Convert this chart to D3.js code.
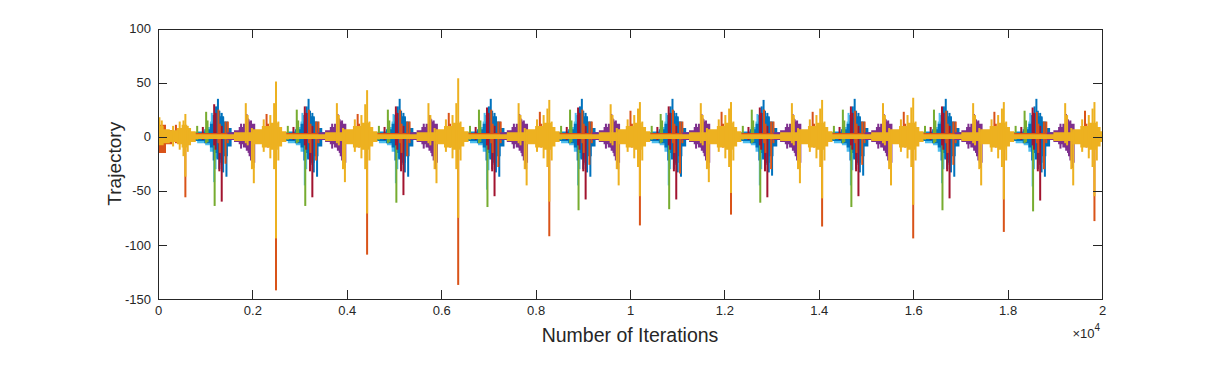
<!DOCTYPE html>
<html>
<head>
<meta charset="utf-8">
<script src="https://cdn.jsdelivr.net/npm/d3@7"></script>
<style>
  body { margin: 0; background: #fff; }
  #graf text { font-family: 'Liberation Sans', Arial, sans-serif; fill: #262626; }
  .eje path, .eje line { stroke: #262626; shape-rendering: crispEdges; }
</style>
</head>
<body>
<div id="graf"></div>
<script>
// Trayectorias vs numero de iteraciones (estilo MATLAB)

// ---- Datos ----
// bandas: [iteracion, max, min] (escalon hasta la siguiente fila)
// picos:  [iteracion, max, min]
xTicks = [0, 2000, 4000, 6000, 8000, 10000, 12000, 14000, 16000, 18000, 20000]
yTicks = [-150, -100, -50, 0, 50, 100]

lightBlueBand = [
  [660,3,-3],[830,5,-6],[1000,9,-8],[1100,14,-14],[1180,10,-20],[1260,6,-10],[1340,0,0],
  [2580,3,-3],[2750,5,-6],[2920,9,-8],[3020,14,-14],[3100,10,-20],[3180,6,-10],[3260,0,0],
  [4510,3,-3],[4680,5,-6],[4850,9,-8],[4950,14,-14],[5030,10,-20],[5110,6,-10],[5190,0,0],
  [6440,3,-3],[6610,5,-6],[6780,9,-8],[6880,14,-14],[6960,10,-20],[7040,6,-10],[7120,0,0],
  [8370,3,-3],[8540,5,-6],[8710,9,-8],[8810,14,-14],[8890,10,-20],[8970,6,-10],[9050,0,0],
  [10290,3,-3],[10460,5,-6],[10630,9,-8],[10730,14,-14],[10810,10,-20],[10890,6,-10],[10970,0,0],
  [12220,3,-3],[12390,5,-6],[12560,9,-8],[12660,14,-14],[12740,10,-20],[12820,6,-10],[12900,0,0],
  [14150,3,-3],[14320,5,-6],[14490,9,-8],[14590,14,-14],[14670,10,-20],[14750,6,-10],[14830,0,0],
  [16080,3,-3],[16250,5,-6],[16420,9,-8],[16520,14,-14],[16600,10,-20],[16680,6,-10],[16760,0,0],
  [18000,3,-3],[18170,5,-6],[18340,9,-8],[18440,14,-14],[18520,10,-20],[18600,6,-10],[18680,0,0],
  [19920,3,-4],[20000,3,-4]
]
lightBlueSpikes = [
  [1140,22,-10],[1190,8,-42],[1220,18,-30],
  [3060,22,-10],[3110,8,-45],[3140,18,-30],
  [4990,21,-10],[5040,8,-43],[5070,17,-30],
  [6920,22,-10],[6970,8,-49],[7000,18,-31],
  [8850,22,-10],[8900,8,-45],[8930,18,-30],
  [10770,22,-10],[10820,8,-45],[10850,17,-30],
  [12700,21,-10],[12750,8,-45],[12780,18,-30],
  [14630,22,-10],[14680,8,-45],[14710,18,-31],
  [16560,22,-10],[16610,8,-43],[16640,18,-30],
  [18480,22,-10],[18530,8,-46],[18560,18,-30]
]

blueBand = [
  [700,4,-4],[980,7,-6],[1100,12,-10],[1180,17,-15],[1240,22,-21],[1320,19,-24],[1400,14,-18],[1480,8,-9],[1560,4,-3],[1620,0,0],
  [2620,4,-4],[2900,7,-6],[3020,12,-10],[3100,17,-15],[3160,22,-21],[3240,19,-24],[3320,14,-18],[3400,8,-9],[3480,4,-3],[3540,0,0],
  [4550,4,-4],[4830,7,-6],[4950,12,-10],[5030,17,-15],[5090,22,-21],[5170,19,-24],[5250,14,-18],[5330,8,-9],[5410,4,-3],[5470,0,0],
  [6480,4,-4],[6760,7,-6],[6880,12,-10],[6960,17,-15],[7020,22,-21],[7100,19,-24],[7180,14,-18],[7260,8,-9],[7340,4,-3],[7400,0,0],
  [8410,4,-4],[8690,7,-6],[8810,12,-10],[8890,17,-15],[8950,22,-21],[9030,19,-24],[9110,14,-18],[9190,8,-9],[9270,4,-3],[9330,0,0],
  [10330,4,-4],[10610,7,-6],[10730,12,-10],[10810,17,-15],[10870,22,-21],[10950,19,-24],[11030,14,-18],[11110,8,-9],[11190,4,-3],[11250,0,0],
  [12260,4,-4],[12540,7,-6],[12660,12,-10],[12740,17,-15],[12800,22,-21],[12880,19,-24],[12960,14,-18],[13040,8,-9],[13120,4,-3],[13180,0,0],
  [14190,4,-4],[14470,7,-6],[14590,12,-10],[14670,17,-15],[14730,22,-21],[14810,19,-24],[14890,14,-18],[14970,8,-9],[15050,4,-3],[15110,0,0],
  [16120,4,-4],[16400,7,-6],[16520,12,-10],[16600,17,-15],[16660,22,-21],[16740,19,-24],[16820,14,-18],[16900,8,-9],[16980,4,-3],[17040,0,0],
  [18040,4,-4],[18320,7,-6],[18440,12,-10],[18520,17,-15],[18580,22,-21],[18660,19,-24],[18740,14,-18],[18820,8,-9],[18900,4,-3],[18960,0,0],
  [19960,4,-4],[20000,4,-4]
]
blueSpikes = [
  [1180,20,-22],[1230,28,-12],[1270,35,-20],[1300,24,-30],[1350,22,-26],[1380,18,-33],[1450,12,-37],
  [3100,20,-22],[3150,28,-12],[3190,35,-20],[3220,24,-30],[3270,22,-26],[3300,18,-33],[3370,12,-37],
  [5030,20,-22],[5080,28,-12],[5120,35,-20],[5150,24,-30],[5200,22,-26],[5230,18,-33],[5300,12,-37],
  [6960,20,-22],[7010,28,-12],[7050,35,-20],[7080,24,-30],[7130,22,-26],[7160,18,-33],[7230,12,-37],
  [8890,20,-22],[8940,28,-12],[8980,35,-20],[9010,24,-30],[9060,22,-26],[9090,18,-33],[9160,12,-37],
  [10810,20,-22],[10860,28,-12],[10900,35,-20],[10930,24,-30],[10980,22,-26],[11010,18,-33],[11080,12,-37],
  [12740,20,-22],[12790,28,-12],[12830,34,-20],[12860,24,-30],[12910,22,-26],[12940,18,-33],[13010,12,-36],
  [14670,20,-22],[14720,28,-12],[14760,35,-20],[14790,24,-30],[14840,22,-26],[14870,18,-33],[14940,12,-36],
  [16600,20,-22],[16650,28,-12],[16690,35,-20],[16720,24,-30],[16770,22,-26],[16800,18,-33],[16870,12,-37],
  [18520,20,-22],[18570,28,-12],[18610,35,-20],[18640,24,-30],[18690,22,-26],[18720,18,-33],[18790,12,-37]
]

greenSpikes = [
  [830,10,-3],[1020,23,-6],[1050,15,-5],[1200,5,-64],
  [2750,10,-3],[2940,25,-6],[2970,15,-5],[3120,5,-64],
  [4680,10,-3],[4870,25,-6],[4900,15,-5],[5050,5,-61],
  [6610,10,-3],[6800,25,-6],[6830,15,-5],[6980,5,-65],
  [8540,10,-3],[8730,25,-6],[8760,15,-5],[8910,5,-68],
  [10460,10,-3],[10650,21,-6],[10680,15,-5],[10830,5,-67],
  [12390,10,-3],[12580,25,-6],[12610,15,-5],[12760,5,-61],
  [14320,10,-3],[14510,25,-6],[14540,15,-5],[14690,5,-65],
  [16250,10,-3],[16440,25,-6],[16470,15,-5],[16620,5,-68],
  [18170,10,-3],[18360,24,-6],[18390,15,-5],[18540,5,-69]
]

darkRedSpikes = [
  [950,9,-3],[1190,30,-8],[1220,22,-12],[1300,6,-32],[1350,10,-60],
  [2870,9,-3],[3110,28,-8],[3140,22,-12],[3220,6,-32],[3270,10,-56],
  [4800,9,-3],[5040,28,-8],[5070,22,-12],[5150,6,-32],[5200,10,-54],
  [6730,9,-3],[6970,27,-8],[7000,22,-12],[7080,6,-32],[7130,10,-55],
  [8660,9,-3],[8900,27,-8],[8930,22,-12],[9010,6,-32],[9060,10,-58],
  [10580,9,-3],[10820,28,-8],[10850,22,-12],[10930,6,-32],[10980,10,-58],
  [12510,9,-3],[12750,27,-8],[12780,22,-12],[12860,6,-32],[12910,10,-56],
  [14440,9,-3],[14680,28,-8],[14710,22,-12],[14790,6,-32],[14840,10,-55],
  [16370,9,-3],[16610,28,-8],[16640,22,-12],[16720,6,-32],[16770,10,-57],
  [18290,9,-3],[18530,27,-8],[18560,22,-12],[18640,6,-32],[18690,10,-59]
]

orangeBand = [
  [0,11,-15],[170,6,-7],[300,3.5,-1],[20000,3.5,-1]
]
orangeSpikes = [
  [380,11,-6],[580,5,-56],
  [1280,25,-6],[1310,12,-15],[1430,14,-25],[1480,14,-6],
  [2300,21,-8],[2330,12,-10],[2500,5,-142],
  [3200,25,-6],[3230,12,-15],[3350,14,-22],[3400,14,-6],
  [4230,21,-8],[4260,12,-10],[4430,5,-109],
  [5130,25,-6],[5160,12,-15],[5280,14,-18],[5330,14,-6],
  [6160,22,-8],[6190,12,-10],[6360,5,-137],
  [7060,25,-6],[7090,12,-15],[7210,14,-28],[7260,14,-6],
  [8090,23,-8],[8120,12,-10],[8290,5,-92],
  [8990,25,-6],[9020,12,-15],[9140,14,-26],[9190,14,-6],
  [10010,24,-8],[10040,12,-10],[10210,5,-82],
  [10910,25,-6],[10940,12,-15],[11060,14,-34],[11110,14,-6],
  [11940,23,-8],[11970,12,-10],[12140,5,-72],
  [12840,25,-6],[12870,12,-15],[12990,14,-30],[13040,14,-6],
  [13870,23,-8],[13900,12,-10],[14070,5,-83],
  [14770,24,-6],[14800,12,-15],[14920,14,-26],[14970,14,-6],
  [15800,23,-8],[15830,12,-10],[16000,5,-94],
  [16700,24,-6],[16730,12,-15],[16850,14,-26],[16900,14,-6],
  [17720,23,-8],[17750,12,-10],[17920,5,-88],
  [18620,23,-6],[18650,12,-15],[18770,14,-30],[18820,14,-6],
  [19640,24,-8],[19670,12,-10],[19840,5,-78]
]

purpleBand = [
  [1470,4,-3],[1610,6,-5],[1710,9,-7],[1800,12,-10],[1860,17,-13],[1920,14,-18],[1980,12,-24],[2060,5,-6],[2130,2,-2],[2190,0,0],
  [3400,4,-3],[3540,6,-5],[3640,9,-7],[3730,12,-10],[3790,17,-13],[3850,14,-18],[3910,12,-24],[3990,5,-6],[4060,2,-2],[4120,0,0],
  [5340,4,-3],[5480,6,-5],[5580,9,-7],[5670,12,-10],[5730,17,-13],[5790,14,-18],[5850,12,-24],[5930,5,-6],[6000,2,-2],[6060,0,0],
  [7250,4,-3],[7390,6,-5],[7490,9,-7],[7580,12,-10],[7640,17,-13],[7700,14,-18],[7760,12,-24],[7840,5,-6],[7910,2,-2],[7970,0,0],
  [9200,4,-3],[9340,6,-5],[9440,9,-7],[9530,12,-10],[9590,17,-13],[9650,14,-18],[9710,12,-24],[9790,5,-6],[9860,2,-2],[9920,0,0],
  [11110,4,-3],[11250,6,-5],[11350,9,-7],[11440,12,-10],[11500,17,-13],[11560,14,-18],[11620,12,-24],[11700,5,-6],[11770,2,-2],[11830,0,0],
  [13040,4,-3],[13180,6,-5],[13280,9,-7],[13370,12,-10],[13430,17,-13],[13490,14,-18],[13550,12,-24],[13630,5,-6],[13700,2,-2],[13760,0,0],
  [14970,4,-3],[15110,6,-5],[15210,9,-7],[15300,12,-10],[15360,17,-13],[15420,14,-18],[15480,12,-24],[15560,5,-6],[15630,2,-2],[15690,0,0],
  [16880,4,-3],[17020,6,-5],[17120,9,-7],[17210,12,-10],[17270,17,-13],[17330,14,-18],[17390,12,-24],[17470,5,-6],[17540,2,-2],[17600,0,0],
  [18830,4,-3],[18970,6,-5],[19070,9,-7],[19160,12,-10],[19220,17,-13],[19280,14,-18],[19340,12,-24],[19420,5,-6],[19490,2,-2],[19550,0,0]
]
purpleSpikes = [
  [1760,12,-11],[1875,21,-10],[1920,16,-15],[1970,15,-22],[2020,10,-29],
  [3690,12,-11],[3805,21,-10],[3850,16,-15],[3900,15,-22],[3950,10,-29],
  [5630,12,-11],[5745,20,-10],[5790,16,-15],[5840,15,-22],[5890,10,-30],
  [7540,12,-11],[7655,21,-10],[7700,16,-15],[7750,15,-22],[7800,10,-30],
  [9490,12,-11],[9605,21,-10],[9650,16,-15],[9700,15,-22],[9750,10,-30],
  [11400,12,-11],[11515,21,-10],[11560,16,-15],[11610,15,-22],[11660,10,-29],
  [13330,12,-11],[13445,21,-10],[13490,16,-15],[13540,15,-22],[13590,10,-29],
  [15260,12,-11],[15375,21,-10],[15420,16,-15],[15470,15,-22],[15520,10,-29],
  [17170,12,-11],[17285,21,-10],[17330,16,-15],[17380,15,-22],[17430,10,-29],
  [19120,12,-11],[19235,21,-10],[19280,16,-15],[19330,15,-22],[19380,10,-29]
]

yellowBand = [
  [0,10,-8],[120,7,-6],[250,6,-5],[400,8,-7],[500,11,-10],[620,8,-8],[700,5,-5],[800,2.2,-2.2],
  [1610,4,-4],[2010,7,-7],[2200,10,-10],[2370,13,-12],[2540,9,-9],[2630,5,-5],[2720,2.2,-2.2],
  [3540,4,-4],[3940,7,-7],[4130,10,-10],[4300,13,-12],[4470,9,-9],[4560,5,-5],[4650,2.2,-2.2],
  [5480,4,-4],[5880,7,-7],[6060,10,-10],[6230,13,-12],[6400,9,-9],[6490,5,-5],[6580,2.2,-2.2],
  [7390,4,-4],[7790,7,-7],[7990,10,-10],[8160,13,-12],[8330,9,-9],[8420,5,-5],[8510,2.2,-2.2],
  [9340,4,-4],[9740,7,-7],[9910,10,-10],[10080,13,-12],[10250,9,-9],[10340,5,-5],[10430,2.2,-2.2],
  [11250,4,-4],[11650,7,-7],[11840,10,-10],[12010,13,-12],[12180,9,-9],[12270,5,-5],[12360,2.2,-2.2],
  [13180,4,-4],[13580,7,-7],[13770,10,-10],[13940,13,-12],[14110,9,-9],[14200,5,-5],[14290,2.2,-2.2],
  [15110,4,-4],[15510,7,-7],[15700,10,-10],[15870,13,-12],[16040,9,-9],[16130,5,-5],[16220,2.2,-2.2],
  [17020,4,-4],[17420,7,-7],[17620,10,-10],[17790,13,-12],[17960,9,-9],[18050,5,-5],[18140,2.2,-2.2],
  [18970,4,-4],[19370,7,-7],[19540,10,-10],[19710,13,-12],[19880,9,-9],[19970,5,-5],[20000,5,-5]
]
yellowSpikes = [
  [30,18,-6],[80,15,-4],
  [320,10,-9],[460,14,-12],[540,15,-18],[580,21,-37],[630,10,-14],
  [1860,31,-6],[1900,20,-8],[1990,8,-30],[2030,6,-43],[2240,16,-14],[2380,20,-20],[2460,31,-30],[2500,51,-94],[2550,14,-22],
  [3790,31,-6],[3830,20,-8],[3920,8,-30],[3960,6,-42],[4170,16,-14],[4310,20,-20],[4390,30,-30],[4430,43,-71],[4480,14,-22],
  [5730,31,-6],[5770,20,-8],[5860,8,-30],[5900,6,-43],[6100,16,-14],[6240,20,-20],[6320,31,-30],[6360,54,-75],[6410,14,-22],
  [7640,31,-6],[7680,20,-8],[7770,8,-30],[7810,6,-45],[8030,16,-14],[8170,20,-20],[8250,26,-28],[8290,34,-60],[8340,14,-22],
  [9590,30,-6],[9630,20,-8],[9720,8,-30],[9760,6,-45],[9950,16,-14],[10090,20,-20],[10170,26,-28],[10210,32,-55],[10260,14,-22],
  [11500,31,-6],[11540,20,-8],[11630,8,-30],[11670,6,-42],[11880,16,-14],[12020,20,-20],[12100,26,-28],[12140,32,-52],[12190,14,-22],
  [13430,31,-6],[13470,20,-8],[13560,8,-30],[13600,6,-43],[13810,16,-14],[13950,20,-20],[14030,26,-28],[14070,34,-57],[14120,14,-22],
  [15360,31,-6],[15400,20,-8],[15490,8,-30],[15530,6,-45],[15740,16,-14],[15880,20,-20],[15960,27,-28],[16000,36,-63],[16050,14,-22],
  [17270,31,-6],[17310,20,-8],[17400,8,-30],[17440,6,-45],[17660,16,-14],[17800,20,-20],[17880,26,-28],[17920,32,-58],[17970,14,-22],
  [19220,31,-6],[19260,20,-8],[19350,8,-30],[19390,6,-45],[19580,16,-14],[19720,20,-20],[19800,26,-28],[19840,32,-55],[19890,14,-22]
]

// orden de dibujo (el ultimo queda encima)
series = [
  { color: '#4DBEEE', band: lightBlueBand, spikes: lightBlueSpikes },
  { color: '#0072BD', band: blueBand,      spikes: blueSpikes },
  { color: '#77AC30', band: [],            spikes: greenSpikes },
  { color: '#A2142F', band: [],            spikes: darkRedSpikes },
  { color: '#D95319', band: orangeBand,    spikes: orangeSpikes },
  { color: '#7E2F8E', band: purpleBand,    spikes: purpleSpikes },
  { color: '#EDB120', band: yellowBand,    spikes: yellowSpikes }
]

// ---- Dimensiones ----
ancho_total = 1218
alto_total  = 367
margins = { top: 28.5, left: 158, right: 116, bottom: 68 }
ancho = ancho_total - margins.left - margins.right
alto  = alto_total - margins.top - margins.bottom

svg = d3.select('#graf').append('svg')
        .attr('width', ancho_total)
        .attr('height', alto_total)

g = svg.append('g')
       .attr('transform', `translate(${margins.left}, ${margins.top})`)

g.append('clipPath')
  .attr('id', 'clip')
  .append('rect')
    .attr('width', ancho)
    .attr('height', alto)

// Escaladores
x = d3.scaleLinear().domain([0, 20000]).range([0, ancho])
y = d3.scaleLinear().domain([-150, 100]).range([alto, 0])

area = d3.area()
         .curve(d3.curveStepAfter)
         .x(d => x(d[0]))
         .y0(d => y(d[2]))
         .y1(d => y(d[1]))

plot = g.append('g').attr('clip-path', 'url(#clip)')

series.forEach(s => {
  sg = plot.append('g')
  if (s.band.length)
    sg.append('path')
      .datum(s.band)
      .attr('d', area)
      .attr('fill', s.color)
  sg.selectAll('rect')
    .data(s.spikes)
    .enter()
    .append('rect')
      .attr('x', d => x(d[0]) - 1)
      .attr('width', 2)
      .attr('y', d => y(d[1]))
      .attr('height', d => y(d[2]) - y(d[1]))
      .attr('fill', s.color)
})

// Ejes (ticks hacia adentro, caja completa)
fmtX = d => String(+(d / 1e4).toFixed(1))
fmtY = d => String(d)   // guion normal, como MATLAB

g.append('g')
  .attr('class', 'eje')
  .attr('transform', `translate(0,${alto})`)
  .call(d3.axisBottom(x).tickValues(xTicks).tickFormat(fmtX).tickSizeInner(-9).tickSizeOuter(0).tickPadding(7))
g.append('g')
  .attr('class', 'eje')
  .call(d3.axisTop(x).tickValues(xTicks).tickFormat('').tickSizeInner(-9).tickSizeOuter(0))
g.append('g')
  .attr('class', 'eje')
  .call(d3.axisLeft(y).tickValues(yTicks).tickFormat(fmtY).tickSizeInner(-9).tickSizeOuter(0).tickPadding(7))
g.append('g')
  .attr('class', 'eje')
  .attr('transform', `translate(${ancho},0)`)
  .call(d3.axisRight(y).tickValues(yTicks).tickFormat('').tickSizeInner(-9).tickSizeOuter(0))

g.selectAll('.eje').attr('font-size', 13).attr('font-family', null)

g.selectAll('.eje .domain').attr('stroke-width', 1)

// Etiquetas
svg.append('text')
  .attr('x', margins.left + ancho / 2)
  .attr('y', 342)
  .attr('text-anchor', 'middle')
  .attr('font-size', '19.5px')
  .text('Number of Iterations')

svg.append('text')
  .attr('transform', `translate(121, ${margins.top + alto / 2}) rotate(-90)`)
  .attr('text-anchor', 'middle')
  .attr('font-size', '19px')
  .text('Trajectory')

exp = svg.append('text')
  .attr('x', 1100)
  .attr('y', 338)
  .attr('text-anchor', 'end')
  .attr('font-size', '13px')
exp.append('tspan').text('\u00d710')
exp.append('tspan').attr('dy', -7).attr('font-size', '10px').text('4')
</script>
</body>
</html>
